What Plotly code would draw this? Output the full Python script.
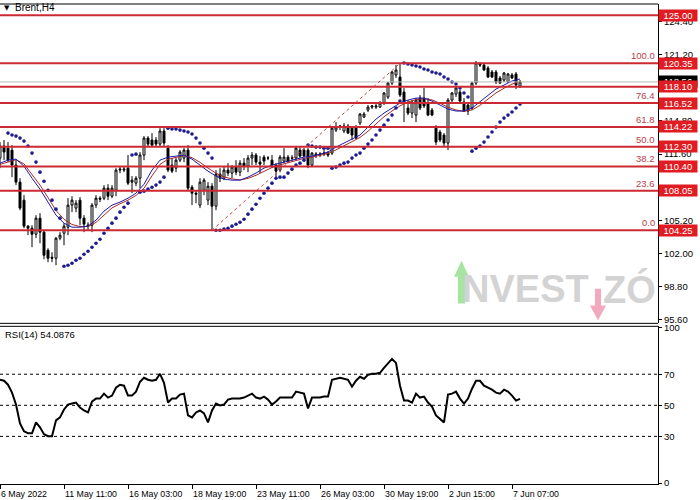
import plotly.graph_objects as go

# ---------------- data ----------------
opens = [111.21, 112.37, 112.17, 111.98, 110.53, 108.89, 107.15, 104.64, 104.44, 103.86,
         105.41, 104.06, 102.32, 101.64, 101.54, 103.48, 103.96, 104.54, 106.67, 106.38,
         107.15, 105.41, 104.64, 104.73, 106.67, 107.34, 107.34, 108.31, 107.53, 108.11,
         110.05, 110.05, 110.24, 108.89, 108.79, 109.27, 111.50, 113.14, 112.95, 112.95,
         112.56, 113.82, 112.17, 110.53, 110.24, 111.01, 111.21, 111.98, 108.40, 107.82,
         106.67, 108.11, 107.15, 108.50, 106.57, 109.66, 109.27, 110.05, 109.76, 110.34,
         109.85, 110.72, 110.43, 111.21, 111.50, 110.82, 111.30, 111.21, 111.01, 110.53,
         110.05, 110.92, 111.30, 111.21, 111.21, 111.98, 111.98, 111.98, 110.53, 111.50,
         111.50, 111.59, 111.69, 111.69, 113.91, 114.20, 113.82, 114.30, 114.10, 114.20,
         114.59, 115.17, 115.84, 116.13, 116.13, 116.13, 116.52, 117.10, 118.45, 119.23,
         119.03, 117.58, 116.04, 115.55, 115.36, 117.00, 117.00, 116.52, 115.84, 114.10,
         113.72, 113.43, 112.66, 116.81, 117.39, 117.58, 116.62, 116.33, 116.04, 118.45,
         120.29, 120.19, 119.90, 119.52, 119.52, 118.94, 118.74, 118.55, 119.23, 119.32,
         118.16]
highs = [112.75, 112.95, 112.75, 112.46, 111.01, 109.27, 107.63, 104.73, 104.73, 105.70,
         105.89, 104.25, 102.51, 102.12, 103.57, 104.06, 104.93, 107.34, 107.53, 107.15,
         107.44, 105.70, 105.02, 106.86, 107.63, 107.53, 108.60, 108.69, 108.60, 110.24,
         110.43, 110.34, 111.50, 109.47, 109.47, 111.79, 113.33, 113.33, 113.62, 113.24,
         114.10, 114.10, 112.46, 111.21, 111.21, 111.98, 112.17, 112.46, 108.60, 108.11,
         109.27, 109.27, 108.89, 108.79, 110.05, 110.24, 110.43, 110.72, 110.53, 111.01,
         111.01, 111.21, 111.50, 111.79, 111.69, 111.40, 111.50, 111.40, 111.50, 110.72,
         111.50, 112.17, 111.50, 111.50, 112.27, 112.37, 112.17, 112.17, 111.79, 111.79,
         111.79, 111.98, 111.88, 114.20, 114.68, 114.39, 114.59, 114.49, 114.30, 114.39,
         115.55, 115.65, 116.33, 116.33, 116.42, 116.71, 117.58, 118.55, 119.61, 120.19,
         120.39, 117.97, 116.81, 116.81, 117.00, 117.29, 117.97, 117.00, 116.04, 114.39,
         113.91, 113.62, 117.00, 117.58, 118.16, 117.78, 117.00, 116.52, 118.55, 120.58,
         120.48, 120.39, 120.10, 119.71, 119.71, 119.13, 119.52, 119.42, 119.42, 119.52,
         118.74]
lows = [110.24, 111.01, 110.82, 109.37, 108.60, 106.18, 104.44, 103.77, 102.61, 103.48,
        102.99, 101.45, 101.16, 101.16, 100.87, 103.28, 102.80, 103.77, 105.99, 105.99,
        104.73, 104.06, 104.25, 104.06, 106.38, 106.96, 107.15, 107.15, 107.34, 107.53,
        109.76, 109.85, 108.60, 107.82, 108.50, 108.31, 111.01, 112.37, 112.27, 112.37,
        112.27, 112.27, 109.85, 109.76, 109.85, 110.82, 110.82, 108.11, 106.67, 106.86,
        106.38, 107.63, 106.67, 104.25, 106.18, 108.89, 109.08, 109.47, 109.27, 109.56,
        109.47, 110.05, 109.85, 110.53, 110.53, 109.76, 110.53, 111.01, 110.24, 109.37,
        109.85, 110.72, 110.72, 110.92, 111.01, 111.21, 111.30, 110.24, 110.34, 111.21,
        111.30, 111.40, 111.30, 111.50, 113.72, 113.91, 113.62, 113.53, 112.95, 113.04,
        114.39, 115.07, 115.65, 115.94, 115.94, 116.04, 116.33, 116.91, 118.26, 118.94,
        117.10, 114.68, 115.36, 115.07, 114.68, 115.84, 116.04, 115.26, 115.26, 112.46,
        112.75, 112.27, 111.98, 116.52, 117.10, 116.62, 115.65, 115.36, 115.84, 118.26,
        120.00, 119.61, 118.94, 118.94, 118.36, 118.36, 118.55, 118.45, 118.84, 117.87,
        117.97]
closes = [112.37, 111.79, 111.01, 110.53, 108.89, 106.38, 104.64, 104.44, 103.86, 105.41,
          104.06, 101.83, 101.54, 101.54, 103.48, 103.77, 104.64, 106.67, 107.15, 106.86,
          105.41, 104.83, 104.73, 106.67, 107.34, 107.25, 108.31, 107.53, 108.31, 110.05,
          110.14, 110.14, 108.79, 109.08, 109.27, 111.50, 113.14, 112.56, 112.46, 112.56,
          113.82, 112.66, 110.05, 109.95, 111.01, 111.79, 111.98, 108.31, 107.82, 107.73,
          108.89, 109.08, 108.50, 106.57, 109.66, 109.27, 110.05, 109.76, 110.34, 109.85,
          110.72, 110.43, 111.21, 111.50, 110.82, 110.63, 110.92, 111.21, 110.53, 109.95,
          111.30, 111.30, 110.92, 111.21, 112.17, 111.40, 111.40, 110.53, 111.69, 111.59,
          111.59, 111.69, 111.50, 114.10, 114.20, 114.30, 114.30, 113.62, 113.43, 113.14,
          115.46, 115.46, 116.13, 116.23, 116.23, 116.52, 117.49, 118.45, 119.52, 119.71,
          117.29, 116.62, 115.55, 116.62, 116.81, 116.04, 116.23, 115.36, 115.36, 112.75,
          112.95, 112.66, 116.81, 117.49, 117.97, 116.71, 115.75, 115.75, 118.45, 120.39,
          120.19, 119.71, 119.03, 119.03, 118.55, 118.45, 119.42, 119.32, 118.94, 118.26,
          118.56]

sar = [None, None, 113.62, 113.43, 113.33, 113.14, 112.85, 112.37, 111.69, 110.82,
       109.85, 108.98, 108.11, 107.15, 106.28, 105.41, 100.77, 100.87, 101.06, 101.35,
       101.54, 101.93, 102.22, 102.61, 102.99, 103.38, 103.96, 104.44, 104.93, 105.41,
       105.99, 106.47, 106.86, 111.50, 111.59, 107.92, 108.02, 108.21, 108.40, 108.60,
       108.89, 109.37, 114.10, 114.01, 114.01, 113.91, 113.82, 113.72, 113.53, 113.14,
       112.66, 112.17, 111.69, 111.21, 104.25, 104.25, 104.35, 104.44, 104.64, 104.83,
       105.02, 105.31, 105.80, 106.28, 106.76, 107.34, 107.82, 108.31, 108.79, 109.27,
       109.37, 109.37, 109.76, 110.14, 110.53, 110.72, 111.01, 112.46, 112.37, 112.27,
       112.27, 112.17, 112.17, 110.24, 110.34, 110.53, 110.72, 110.82, 111.21, 111.50,
       111.69, 112.17, 112.56, 112.95, 113.43, 113.91, 114.39, 114.88, 115.36, 116.04,
       116.71, 120.39, 120.29, 120.19, 120.10, 120.00, 119.81, 119.71, 119.52, 119.42,
       119.32, 119.03, 118.84, 118.55, 118.36, 117.97, 117.49, 117.10, 111.88, 112.17,
       112.37, 112.75, 113.24, 113.72, 114.20, 114.68, 115.07, 115.36, 115.65, 116.04,
       116.42]

rsi = [66.43, 65.79, 63.24, 58.14, 50.49, 38.38, 33.28, 32.01, 32.01, 39.02,
       35.83, 31.37, 30.09, 30.09, 40.30, 42.21, 47.31, 50.49, 51.13, 51.77,
       48.58, 46.67, 45.39, 52.41, 54.32, 54.32, 57.51, 54.96, 56.23, 61.33,
       63.24, 62.61, 56.23, 56.23, 58.78, 65.15, 67.70, 66.43, 65.79, 66.43,
       70.26, 64.52, 51.77, 54.32, 54.32, 56.87, 57.51, 43.48, 42.21, 45.39,
       46.67, 44.76, 39.02, 46.67, 51.13, 49.86, 50.49, 53.68, 54.32, 54.32,
       54.32, 54.96, 56.23, 57.51, 54.96, 54.32, 55.59, 53.68, 50.49, 52.41,
       54.96, 54.96, 54.96, 54.96, 58.78, 58.14, 57.51, 47.94, 54.96, 54.96,
       54.96, 55.59, 55.59, 66.43, 67.07, 67.70, 67.07, 66.43, 61.97, 65.79,
       68.34, 67.07, 69.62, 70.26, 70.26, 70.89, 74.08, 77.27, 79.82, 77.27,
       62.61, 53.04, 53.04, 51.77, 57.51, 54.96, 55.59, 51.77, 49.22, 43.48,
       40.93, 39.02, 56.87, 57.51, 58.78, 54.32, 51.13, 54.32, 60.69, 65.79,
       65.79, 62.61, 61.33, 60.05, 58.14, 57.51, 60.05, 58.78, 56.23, 53.04,
       54.09]

# moving averages, read every second bar
ma_step = 2
ma_fast = [110.72, 111.01, 111.11, 110.43, 109.27, 108.21, 106.96, 105.70, 104.93, 104.54,
           104.54, 104.64, 105.22, 106.09, 106.67, 106.96, 107.34, 107.82, 108.69, 110.05,
           111.01, 111.30, 111.40, 111.50, 111.11, 110.53, 109.95, 109.47, 109.18, 109.08,
           109.08, 109.37, 109.76, 110.24, 110.53, 110.72, 110.92, 111.11, 111.30, 111.40,
           111.59, 111.79, 112.27, 112.66, 113.04, 113.43, 114.20, 114.97, 115.55, 116.04,
           116.52, 116.81, 117.00, 117.00, 116.71, 116.33, 115.94, 115.75, 115.75, 116.04,
           116.62, 117.29, 117.87, 118.26, 118.65, 118.84]
ma_slow = [110.60, 110.85, 111.05, 110.65, 109.65, 108.60, 107.40, 106.15, 105.30, 104.80,
           104.60, 104.60, 105.00, 105.75, 106.40, 106.80, 107.15, 107.60, 108.30, 109.50,
           110.60, 111.10, 111.30, 111.45, 111.25, 110.80, 110.25, 109.75, 109.40, 109.20,
           109.10, 109.25, 109.55, 109.95, 110.30, 110.55, 110.78, 110.98, 111.18, 111.30,
           111.48, 111.66, 112.00, 112.40, 112.80, 113.20, 113.80, 114.55, 115.20, 115.75,
           116.25, 116.62, 116.85, 116.95, 116.82, 116.50, 116.12, 115.85, 115.72, 115.86,
           116.30, 116.90, 117.50, 117.95, 118.35, 118.60]

level_prices = [125.00, 120.35, 118.10, 116.52, 114.22, 112.30, 110.40, 108.05, 104.25]
fib_prices = [120.35, 116.52, 114.22, 112.30, 110.40, 108.05, 104.25]
fib_labels = ["100.0", "76.4", "61.8", "50.0", "38.2", "23.6", "0.0"]
fib_trend_bars = [53, 100]
fib_trend_prices = [104.25, 120.35]
last_price = 118.56
price_ticks = [95.60, 98.80, 102.00, 105.20, 108.40, 111.60, 114.80, 118.00, 121.20, 124.40]
rsi_ticks = [0, 30, 50, 70, 100]
rsi_levels = [30, 50, 70]
rsi_value_text = "54.0876"
time_bars = [0, 16, 32, 48, 64, 80, 96, 112, 128]
time_labels = ["6 May 2022", "11 May 11:00", "16 May 03:00", "18 May 19:00", "23 May 11:00",
               "26 May 03:00", "30 May 19:00", "2 Jun 15:00", "7 Jun 07:00"]
symbol_title = "Brent,H4"

# ---------------- figure ----------------
FONT = "Liberation Sans"
LINE_RED = "#cc2a32"
BOX_RED = "#e01b22"
FIB_TXT = "#b8424a"

bars = list(range(len(closes)))
ma_x = [i * ma_step for i in range(len(ma_fast))]

fig = go.Figure()
fig.add_trace(go.Candlestick(
    x=bars, open=opens, high=highs, low=lows, close=closes,
    increasing=dict(line=dict(color="black", width=1), fillcolor="white"),
    decreasing=dict(line=dict(color="black", width=1), fillcolor="black"),
    whiskerwidth=0, showlegend=False, hoverinfo="skip", xaxis="x", yaxis="y"))
fig.add_trace(go.Scatter(x=ma_x, y=ma_slow, mode="lines",
                         line=dict(color="#a82a2a", width=1), showlegend=False,
                         hoverinfo="skip", xaxis="x", yaxis="y"))
fig.add_trace(go.Scatter(x=ma_x, y=ma_fast, mode="lines",
                         line=dict(color="#1c1ca8", width=1), showlegend=False,
                         hoverinfo="skip", xaxis="x", yaxis="y"))
fig.add_trace(go.Scatter(x=bars[:len(sar)], y=sar, mode="markers",
                         marker=dict(color="#1c1c8e", size=3.6, line=dict(width=0)),
                         showlegend=False, hoverinfo="skip", xaxis="x", yaxis="y"))
fig.add_trace(go.Scatter(x=bars[:len(rsi)], y=rsi, mode="lines",
                         line=dict(color="black", width=2), showlegend=False,
                         hoverinfo="skip", xaxis="x", yaxis="y2"))

shapes = []
# watermark (decoration, paper coords)
shapes.append(dict(type="path", xref="paper", yref="paper", layer="below",
                   path="M 0.6960,0.3760 L 0.6960,0.4318 L 0.6900,0.4318 L 0.7014,0.4649 "
                        "L 0.7128,0.4318 L 0.7067,0.4318 L 0.7067,0.3760 Z",
                   fillcolor="#a9e3a3", line=dict(width=0)))
shapes.append(dict(type="path", xref="paper", yref="paper", layer="below",
                   path="M 0.9043,0.4070 L 0.9043,0.3719 L 0.8967,0.3719 L 0.9088,0.3409 "
                        "L 0.9210,0.3719 L 0.9134,0.3719 L 0.9134,0.4070 Z",
                   fillcolor="#f2a9be", line=dict(width=0)))
# current price line
shapes.append(dict(type="line", xref="paper", yref="y", x0=0, x1=1, y0=last_price, y1=last_price,
                   line=dict(color="#b8b8b8", width=1)))
for p in level_prices:
    shapes.append(dict(type="line", xref="paper", yref="y", x0=0, x1=1, y0=p, y1=p,
                       line=dict(color=LINE_RED, width=2)))
shapes.append(dict(type="line", xref="x", yref="y",
                   x0=fib_trend_bars[0], x1=fib_trend_bars[1],
                   y0=fib_trend_prices[0], y1=fib_trend_prices[1],
                   line=dict(color="#c8403f", width=1, dash="3px,3px")))
for lv in rsi_levels:
    shapes.append(dict(type="line", xref="paper", yref="y2", x0=0, x1=1, y0=lv, y1=lv,
                       line=dict(color="black", width=1, dash="3px,3px")))
# panel borders
for yr in ["y domain", "y2 domain"]:
    shapes.append(dict(type="line", xref="paper", yref=yr, x0=0, x1=1, y0=1, y1=1,
                       line=dict(color="black", width=1)))
shapes.append(dict(type="line", xref="paper", yref="y domain", x0=0, x1=1, y0=0, y1=0,
                   line=dict(color="black", width=1)))

ann = []
ann.append(dict(text="<b>NVEST</b>", xref="paper", yref="paper", x=0.7986, y=0.406,
                showarrow=False, font=dict(family=FONT, size=38, color="#d3d3d3"),
                xanchor="center", yanchor="middle"))
ann.append(dict(text="<b>ZÓ</b>", xref="paper", yref="paper", x=0.957, y=0.406,
                showarrow=False, font=dict(family=FONT, size=38, color="#d3d3d3"),
                xanchor="center", yanchor="middle"))
ann.append(dict(text="▼", xref="paper", yref="paper", x=0, y=1, xshift=2, yshift=2,
                xanchor="left", yanchor="top", showarrow=False,
                font=dict(family="DejaVu Sans", size=7, color="black")))
ann.append(dict(text=symbol_title, xref="paper", yref="paper", x=0, y=1, xshift=13, yshift=4,
                xanchor="left", yanchor="top", showarrow=False,
                font=dict(family=FONT, size=10, color="black")))
ann.append(dict(text="RSI(14) " + rsi_value_text, xref="paper", yref="y2 domain", x=0, y=1,
                xshift=3, yshift=-1, xanchor="left", yanchor="top", showarrow=False,
                font=dict(family=FONT, size=9.5, color="black")))
for b, t in zip(time_bars, time_labels):
    ann.append(dict(text=t, xref="x", yref="paper", x=b, y=0, xshift=-1, yshift=-3,
                    xanchor="left", yanchor="top", showarrow=False,
                    font=dict(family=FONT, size=8.8, color="black")))
for p, t in zip(fib_prices, fib_labels):
    ann.append(dict(text=t, xref="paper", yref="y", x=1, y=p, xshift=-1, yshift=0,
                    xanchor="right", yanchor="bottom", showarrow=False,
                    font=dict(family=FONT, size=9.5, color=FIB_TXT)))
ann.append(dict(text=f"{last_price:.2f}", xref="paper", yref="y", x=1, y=last_price,
                xanchor="left", yanchor="middle", showarrow=False, width=38, height=11,
                bgcolor="black", borderpad=0, font=dict(family=FONT, size=9.5, color="white")))
for p in level_prices:
    ann.append(dict(text=f"{p:.2f}", xref="paper", yref="y", x=1, y=p,
                    xanchor="left", yanchor="middle", showarrow=False, width=38, height=11,
                    bgcolor=BOX_RED, borderpad=0, font=dict(family=FONT, size=9.5, color="white")))

fig.update_layout(
    width=700, height=500,
    margin=dict(l=0, r=42, t=0, b=16),
    paper_bgcolor="white", plot_bgcolor="white",
    font=dict(family=FONT, size=9.5, color="black"),
    showlegend=False, hovermode=False,
    shapes=shapes, annotations=ann,
    xaxis=dict(domain=[0, 1], range=[0, 164.5], anchor="y2", showgrid=False, zeroline=False,
               tickvals=time_bars, ticktext=[""] * len(time_bars), ticks="outside", ticklen=4,
               tickcolor="black", showline=True, linecolor="black", linewidth=1,
               rangeslider=dict(visible=False), fixedrange=True),
    yaxis=dict(domain=[0.3347, 1], range=[95.26, 126.08], side="right", anchor="x",
               showgrid=False, zeroline=False, tickvals=price_ticks,
               ticktext=[f"{v:.2f}" for v in price_ticks], ticks="outside", ticklen=3,
               tickcolor="black", showline=True, linecolor="black", linewidth=1,
               tickfont=dict(family=FONT, size=9.5, color="black")),
    yaxis2=dict(domain=[0, 0.3285], range=[-0.62, 100.8], side="right", anchor="x",
                showgrid=False, zeroline=False, tickvals=rsi_ticks,
                ticktext=[str(v) for v in rsi_ticks], ticks="outside", ticklen=3,
                tickcolor="black", showline=True, linecolor="black", linewidth=1,
                tickfont=dict(family=FONT, size=9.5, color="black")),
)

fig.write_html("out.html", config={"displayModeBar": False},
               post_script="document.body.style.margin='0px';document.body.style.overflow='hidden';")
